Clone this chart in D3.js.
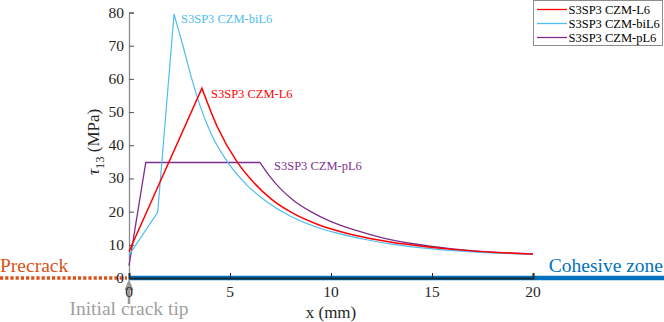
<!DOCTYPE html>
<html>
<head>
<meta charset="utf-8">
<script src="https://cdn.jsdelivr.net/npm/d3@7"></script>
<style>
  body { margin: 0; background: #fff; }
  svg text { font-family: "Liberation Serif", "Times New Roman", Times, "DejaVu Serif", serif; }
</style>
</head>
<body>
<div id="chart"></div>
<script>
// series: [x (mm), tau13 (MPa)]
const seriesNames = ["S3SP3 CZM-L6", "S3SP3 CZM-biL6", "S3SP3 CZM-pL6"];
const seriesColors = ["#ff0000", "#4dbeee", "#7e2f8e"];

const L6 = [[0, 8.0], [3.61, 57.2], [4.4, 45.2], [5.36, 34.9], [6.2, 28.6], [7.06, 23.7],
  [8.0, 19.9], [9.45, 15.9], [10.45, 14.0], [11.7, 12.2], [13.0, 10.8], [14.5, 9.6],
  [16.47, 8.4], [18.2, 7.7], [20, 7.2]];
const biL6 = [[0, 6.9], [1.42, 19.8], [2.23, 79.5], [2.66, 70.2], [3.08, 60.6], [3.51, 52.0], [4.1, 43.0],
  [4.92, 34.6], [5.8, 28.2], [6.82, 23.0], [8.0, 18.6], [9.45, 15.0], [10.45, 13.3],
  [11.7, 11.6], [13.0, 10.2], [14.5, 9.1], [16.47, 8.1], [18.2, 7.5], [20, 7.2]];
const pL6 = [[0, 3.7], [0.83, 34.8], [6.49, 34.8], [7.0, 30.4], [7.48, 27.0], [8.10, 23.6], [9.0, 20.0],
  [10.0, 17.0], [11.2, 14.4], [12.5, 12.2], [14.0, 10.4], [16.0, 8.8], [18.0, 7.8], [20, 7.2]];
// index where the decaying (curved) part begins
const decayStart = [1, 2, 2];

const xTicks = [0, 5, 10, 15, 20];
const yTicks = [0, 10, 20, 30, 40, 50, 60, 70, 80];

const MARGIN = { LEFT: 129, RIGHT: 131, TOP: 12.5, BOTTOM: 44 };
const W = 664, H = 322;
const WIDTH = W - MARGIN.LEFT - MARGIN.RIGHT;
const HEIGHT = H - MARGIN.TOP - MARGIN.BOTTOM;

const svg = d3.select("#chart").append("svg")
  .attr("width", W)
  .attr("height", H)
  .attr("font-family", "'Liberation Serif', 'Times New Roman', Times, serif");

const x = d3.scaleLinear().domain([0, 20]).range([MARGIN.LEFT, MARGIN.LEFT + WIDTH]);
const y = d3.scaleLinear().domain([0, 80]).range([MARGIN.TOP + HEIGHT, MARGIN.TOP]);
const y0 = y(0);

// cohesive zone bar + precrack dots
svg.append("line")
  .attr("x1", x(0)).attr("x2", W)
  .attr("y1", y0).attr("y2", y0)
  .attr("stroke", "#0072bd").attr("stroke-width", 4.5);
svg.append("line")
  .attr("x1", 0).attr("x2", x(0) - 2)
  .attr("y1", y0).attr("y2", y0)
  .attr("stroke", "#d95319").attr("stroke-width", 3.5)
  .attr("stroke-dasharray", "3.2,2");

// Y axis (ticks inward)
const yAxis = svg.append("g")
  .attr("transform", `translate(${x(0)}, 0)`)
  .call(d3.axisRight(y).tickValues(yTicks).tickSize(5).tickFormat(""));
yAxis.select(".domain").attr("stroke", "#8c8c8c").attr("stroke-width", 1.3);
yAxis.selectAll(".tick line").attr("stroke", "#555");
svg.append("g").selectAll("text").data(yTicks).join("text")
  .attr("x", x(0) - 5)
  .attr("y", d => y(d) + 5)
  .attr("text-anchor", "end")
  .attr("font-size", "15.5px")
  .attr("fill", "#262626")
  .text(d => d);

// X axis (ticks inward)
const xAxis = svg.append("g")
  .attr("transform", `translate(0, ${y0})`)
  .call(d3.axisTop(x).tickValues(xTicks).tickSize(5).tickFormat(""));
xAxis.select(".domain").attr("stroke", "#1a2a3a").attr("stroke-width", 2);
xAxis.selectAll(".tick line").attr("stroke", "#262626");

// initial crack tip arrow
svg.append("line")
  .attr("x1", x(0)).attr("x2", x(0))
  .attr("y1", y0 + 10).attr("y2", y0 + 26)
  .attr("stroke", "#999").attr("stroke-width", 2.5);
svg.append("path")
  .attr("d", `M${x(0)},${y0 + 1}L${x(0) - 4.5},${y0 + 12}L${x(0) + 4.5},${y0 + 12}Z`)
  .attr("fill", "#999");

svg.append("g").selectAll("text").data(xTicks).join("text")
  .attr("x", d => x(d))
  .attr("y", y0 + 19)
  .attr("text-anchor", "middle")
  .attr("font-size", "15.5px")
  .attr("fill", "#262626")
  .text(d => d);

// labels
svg.append("text")
  .attr("x", x(10))
  .attr("y", 318)
  .attr("text-anchor", "middle")
  .attr("font-size", "17px")
  .attr("fill", "#262626")
  .text("x (mm)");

const yl = svg.append("text")
  .attr("transform", `translate(99, ${y(41)}) rotate(-90)`)
  .attr("text-anchor", "middle")
  .attr("font-size", "17px")
  .attr("fill", "#262626");
yl.append("tspan").attr("font-style", "italic").text("τ");
yl.append("tspan").attr("font-size", "12.5px").attr("dy", 5).text("13");
yl.append("tspan").attr("dy", -5).text(" (MPa)");

svg.append("text")
  .attr("x", 0).attr("y", 271.5)
  .attr("font-size", "19.5px")
  .attr("fill", "#d95319")
  .text("Precrack");
svg.append("text")
  .attr("x", 663).attr("y", 271.5)
  .attr("text-anchor", "end")
  .attr("font-size", "19.5px")
  .attr("fill", "#0072bd")
  .text("Cohesive zone");
svg.append("text")
  .attr("x", x(0)).attr("y", 315)
  .attr("text-anchor", "middle")
  .attr("font-size", "19.5px")
  .attr("fill", "#a0a0a0")
  .text("Initial crack tip");

// curves: straight loading part, smooth softening part
const straight = d3.line().x(d => x(d[0])).y(d => y(d[1]));
const smooth = d3.line().x(d => x(d[0])).y(d => y(d[1])).curve(d3.curveMonotoneX);
const allSeries = [L6, biL6, pL6];
const widths = [1.5, 1.2, 1.3];
// draw purple first, then blue, red on top
[2, 1, 0].forEach(i => {
  const s = allSeries[i];
  const k = decayStart[i];
  svg.append("path")
    .attr("d", straight(s.slice(0, k + 1)) + smooth(s.slice(k)).replace(/^M/, "L"))
    .attr("fill", "none")
    .attr("stroke", seriesColors[i])
    .attr("stroke-width", widths[i])
    .attr("stroke-linejoin", "miter");
});

// in-plot annotations
const notes = [
  { name: seriesNames[1], color: seriesColors[1], x: 181, y: 23 },
  { name: seriesNames[0], color: seriesColors[0], x: 211, y: 98 },
  { name: seriesNames[2], color: seriesColors[2], x: 274, y: 170 }
];
svg.append("g").selectAll("text").data(notes).join("text")
  .attr("x", d => d.x)
  .attr("y", d => d.y)
  .attr("font-size", "12.5px")
  .attr("fill", d => d.color)
  .text(d => d.name);

// legend
const legend = svg.append("g");
legend.append("rect")
  .attr("x", 533.5).attr("y", 0.5)
  .attr("width", 129).attr("height", 45)
  .attr("fill", "#fff")
  .attr("stroke", "#8c8c8c").attr("stroke-width", 1);
seriesNames.forEach((name, i) => {
  const ly = 9.5 + i * 14;
  legend.append("line")
    .attr("x1", 537).attr("x2", 567)
    .attr("y1", ly).attr("y2", ly)
    .attr("stroke", seriesColors[i]).attr("stroke-width", 1.3);
  legend.append("text")
    .attr("x", 568.5).attr("y", ly + 4.5)
    .attr("font-size", "12.5px")
    .attr("fill", "#000")
    .text(name);
});
</script>
</body>
</html>
